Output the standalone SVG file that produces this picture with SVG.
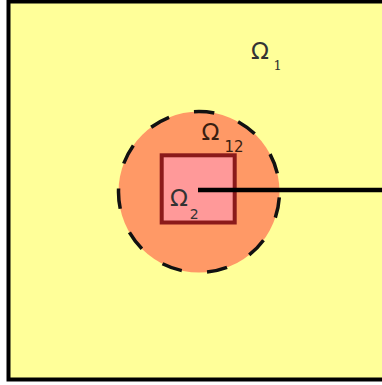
<svg xmlns="http://www.w3.org/2000/svg" width="382" height="385" viewBox="0 0 382 385">
<style>
.om{font-family:"DejaVu Sans",sans-serif;fill:#333;}
.sub{font-family:"DejaVu Sans",sans-serif;fill:#333;}
.subs{font-family:"DejaVu Serif",serif;fill:#333;}
</style>
<rect x="0" y="0" width="382" height="385" fill="#ffffff"/>
<g id="omega1">
<rect x="8.5" y="1.5" width="400" height="378" fill="#ffff99" stroke="#000" stroke-width="4"/>
<text class="om" x="251" y="58.5" font-size="23.5">Ω</text>
<text class="subs" x="273.5" y="69.5" font-size="13">1</text>
</g>
<g id="omega12">
<circle cx="199" cy="192" r="80.5" fill="#ff9966" stroke="#111" stroke-width="3.5" stroke-dasharray="20.5 25.5" stroke-dashoffset="-5.6"/>
<text class="om" x="201.5" y="139.5" font-size="23.5" style="fill:#3a1e10">Ω</text>
<text class="sub" x="224.5" y="151.5" font-size="15" style="fill:#3a1e10">12</text>
</g>
<g id="omega2">
<rect x="161.7" y="155.3" width="73" height="67.2" fill="#ff9999" stroke="#8b1a1a" stroke-width="4"/>
<text class="om" x="170" y="206" font-size="23.5">Ω</text>
<text class="sub" x="189.8" y="218.6" font-size="14">2</text>
</g>
<g id="connectors">
<line x1="198" y1="190" x2="384" y2="190" stroke="#000" stroke-width="4.5"/>
</g>
</svg>
